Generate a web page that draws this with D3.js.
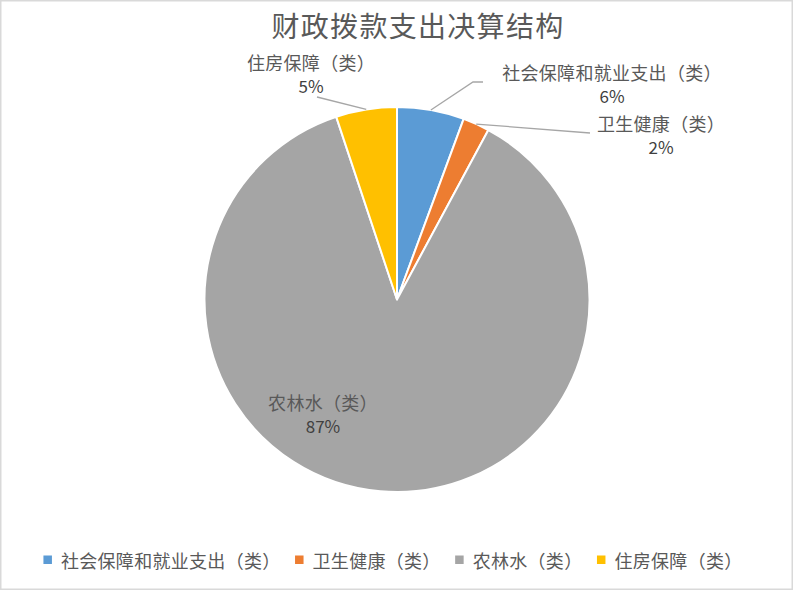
<!DOCTYPE html>
<html>
<head>
<meta charset="utf-8">
<script src="https://cdn.jsdelivr.net/npm/d3@7"></script>
<style>
  html, body { margin: 0; padding: 0; background: #fff; }
  svg { display: block; }
  text { font-family: "Noto Sans CJK SC", "Noto Sans", sans-serif; }
</style>
</head>
<body>
<svg id="chart" width="794" height="591"></svg>
<script>
// data (share of total, %)
const categories = ['社会保障和就业支出（类）', '卫生健康（类）', '农林水（类）', '住房保障（类）'];
const shares = [5.63, 2.24, 87.02, 5.11];
const colors = ['#5B9BD5', '#ED7D31', '#A5A5A5', '#FFC000'];

// label layout: text centre, leader end point (null = no leader)
const labelPos = [
    { x: 612, y: 72, lead: [[473, 82], [483, 82]] },
    { x: 661, y: 123, lead: [[590, 133]] },
    { x: 323, y: 402, lead: null },
    { x: 311, y: 62, lead: [[317, 97]] }
];

const width = 794, height = 591;
const cx = 397, cy = 299.5, radius = 192.5;

const svg = d3.select('#chart');

// chart border
svg.append('rect')
    .attr('x', 0.75).attr('y', 0.75)
    .attr('width', width - 2.5).attr('height', height - 2.5)
    .attr('fill', '#fff')
    .attr('stroke', '#d9d9d9')
    .attr('stroke-width', 1.5);

svg.append('text')
    .attr('x', 418)
    .attr('y', 25)
    .attr('text-anchor', 'middle')
    .attr('dominant-baseline', 'central')
    .attr('font-size', 28)
    .attr('letter-spacing', 1.3)
    .attr('fill', '#595959')
    .text('财政拨款支出决算结构');

const pie = d3.pie().sort(null).value(d => d);
const arcs = pie(shares);
const arc = d3.arc().innerRadius(0).outerRadius(radius);
const edge = d3.arc().innerRadius(radius).outerRadius(radius);

const g = svg.append('g').attr('transform', `translate(${cx},${cy})`);

g.selectAll('path.slice')
    .data(arcs)
    .join('path')
    .attr('class', 'slice')
    .attr('d', arc)
    .attr('fill', (d, i) => colors[i])
    .attr('stroke', '#fff')
    .attr('stroke-width', 2)
    .attr('stroke-linejoin', 'round');

// leader lines
const line = d3.line();
arcs.forEach((d, i) => {
    const p = labelPos[i];
    if (!p.lead) return;
    const start = edge.centroid(d);
    const pts = [[start[0] + cx, start[1] + cy]].concat(p.lead);
    svg.append('path')
        .attr('d', line(pts))
        .attr('fill', 'none')
        .attr('stroke', '#a6a6a6')
        .attr('stroke-width', 1.3);
});

// data labels
const labels = svg.append('g').selectAll('g')
    .data(arcs)
    .join('g')
    .attr('transform', (d, i) => `translate(${labelPos[i].x},${labelPos[i].y})`);

labels.append('text')
    .attr('text-anchor', 'middle')
    .attr('dominant-baseline', 'central')
    .attr('font-size', 18)
    .attr('letter-spacing', 0.3)
    .attr('fill', '#595959')
    .text((d, i) => categories[i]);

labels.append('text')
    .attr('y', 23.5)
    .attr('text-anchor', 'middle')
    .attr('dominant-baseline', 'central')
    .attr('font-size', 17)
    .attr('fill', '#404040')
    .text(d => Math.round(d.data) + '%');

// legend
const legend = svg.append('g');
const items = legend.selectAll('g')
    .data(categories)
    .join('g');

items.append('rect')
    .attr('y', -4.5)
    .attr('width', 8.5)
    .attr('height', 8.5)
    .attr('fill', (d, i) => colors[i]);

items.append('text')
    .attr('x', 17.5)
    .attr('dominant-baseline', 'central')
    .attr('font-size', 18)
    .attr('letter-spacing', 0.3)
    .attr('fill', '#595959')
    .text(d => d);

let xoff = 0;
items.each(function() {
    const w = d3.select(this).select('text').node().getComputedTextLength();
    d3.select(this).attr('transform', `translate(${xoff},0)`);
    xoff += 17.5 + w + 14.5;
});
const total = xoff - 14.5;
legend.attr('transform', `translate(${393 - total / 2},560)`);
</script>
</body>
</html>
